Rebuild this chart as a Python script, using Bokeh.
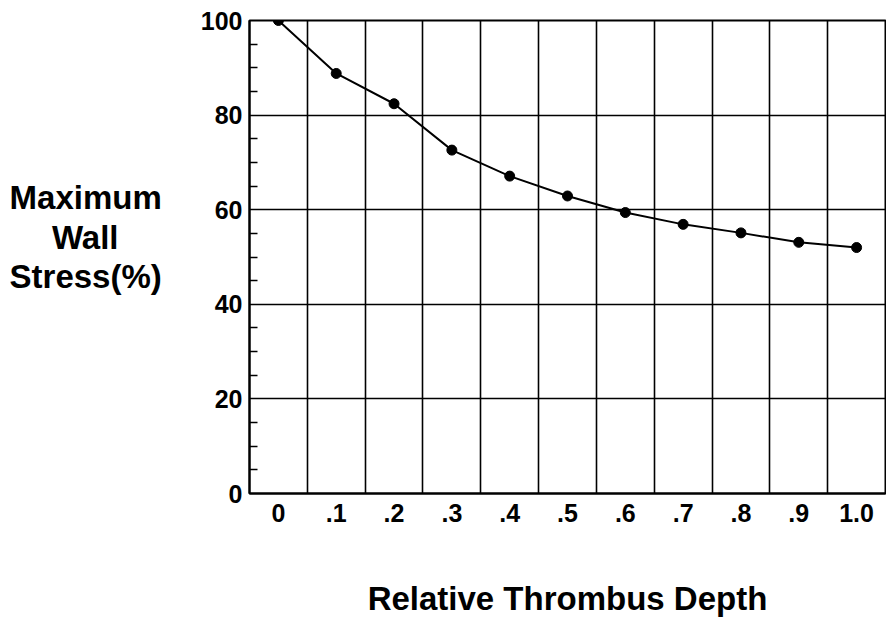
from bokeh.plotting import figure
from bokeh.models import FixedTicker, Range1d
from bokeh.embed import file_html
from bokeh.resources import INLINE

# ---- data ----
depth = [0.0, 0.1, 0.2, 0.3, 0.4, 0.5, 0.6, 0.7, 0.8, 0.9, 1.0]
stress = [100.0, 88.8, 82.4, 72.6, 67.1, 62.9, 59.4, 56.9, 55.1, 53.1, 52.0]
x_tick_labels = ["0", ".1", ".2", ".3", ".4", ".5", ".6", ".7", ".8", ".9", "1.0"]
y_ticks = [0, 20, 40, 60, 80, 100]
y_minor_ticks = [5, 10, 15, 25, 30, 35, 45, 50, 55, 65, 70, 75, 85, 90, 95]
x_grid_lines = [0.05, 0.15, 0.25, 0.35, 0.45, 0.55, 0.65, 0.75, 0.85, 0.95]
y_title_lines = ["Maximum", "Wall", "Stress(%)"]
x_title = "Relative Thrombus Depth"

FONT = "Liberation Sans"

# centre the short middle line with non-breaking padding (labels are right-aligned)
pad = "\u00a0" * 4 + "\u2009"
y_title = y_title_lines[0] + "\n" + y_title_lines[1] + pad + "\n" + y_title_lines[2] + "\n"

p = figure(width=886, height=619, output_backend="svg", toolbar_location=None,
           x_range=Range1d(-0.05, 1.05), y_range=Range1d(0, 100),
           min_border_left=249, min_border_right=1,
           min_border_top=20, min_border_bottom=125)

p.background_fill_color = "white"
p.border_fill_color = "white"
p.outline_line_color = "black"
p.outline_line_width = 2

# grids
p.xgrid.ticker = FixedTicker(ticks=x_grid_lines)
p.ygrid.ticker = FixedTicker(ticks=y_ticks)
for g in (p.xgrid, p.ygrid):
    g.grid_line_color = "black"
    g.grid_line_width = 1.6
    g.grid_line_alpha = 1.0

# x axis
xa = p.xaxis[0]
xa.ticker = FixedTicker(ticks=depth)
xa.major_label_overrides = {d: lab for d, lab in zip(depth, x_tick_labels)}
xa.major_tick_in = 0
xa.major_tick_out = 0
xa.minor_tick_in = 0
xa.minor_tick_out = 0
xa.axis_line_color = "black"
xa.axis_line_width = 2
xa.major_label_text_font = FONT
xa.major_label_text_font_style = "bold"
xa.major_label_text_font_size = "25px"
xa.major_label_text_color = "black"
xa.major_label_standoff = 10
xa.axis_label = x_title
xa.axis_label_text_font = FONT
xa.axis_label_text_font_style = "bold"
xa.axis_label_text_font_size = "33px"
xa.axis_label_text_color = "black"
xa.axis_label_standoff = 55

# y axis
ya = p.yaxis[0]
ya.ticker = FixedTicker(ticks=y_ticks, minor_ticks=y_minor_ticks)
ya.major_tick_in = 0
ya.major_tick_out = 0
ya.minor_tick_in = 8
ya.minor_tick_out = 0
ya.minor_tick_line_color = "black"
ya.minor_tick_line_width = 1.5
ya.axis_line_color = "black"
ya.axis_line_width = 2
ya.major_label_text_font = FONT
ya.major_label_text_font_style = "bold"
ya.major_label_text_font_size = "25px"
ya.major_label_text_color = "black"
ya.major_label_standoff = 7
ya.axis_label = y_title
ya.axis_label_orientation = "horizontal"
ya.axis_label_text_font = FONT
ya.axis_label_text_font_style = "bold"
ya.axis_label_text_font_size = "33px"
ya.axis_label_text_color = "black"
ya.axis_label_text_line_height = 1.08
ya.axis_label_standoff = 36

# data
p.line(depth, stress, line_color="black", line_width=2)
p.scatter(depth, stress, size=10, fill_color="black", line_color="black")

open("out.html", "w").write(file_html(p, INLINE))
